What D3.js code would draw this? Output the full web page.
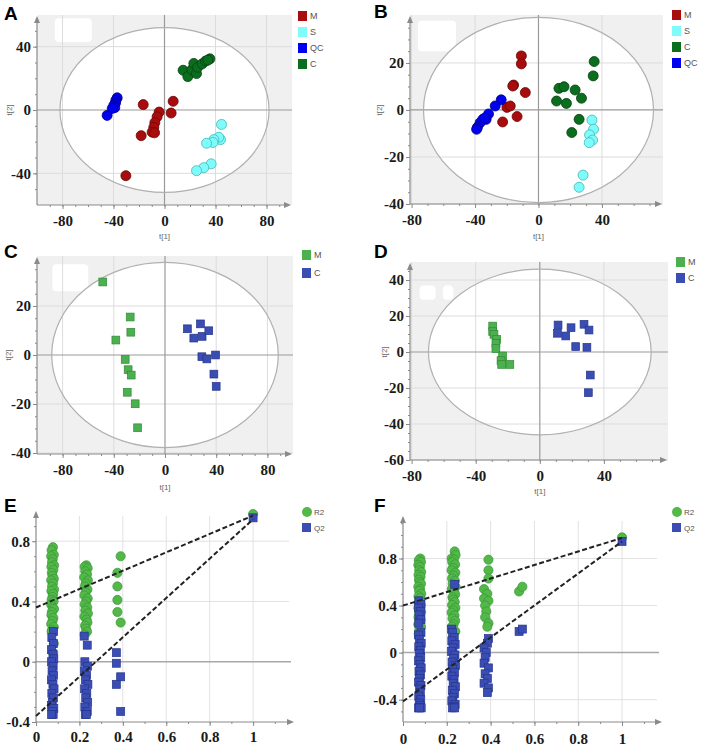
<!DOCTYPE html>
<html><head><meta charset="utf-8">
<script src="https://cdn.jsdelivr.net/npm/d3@7"></script>
<style>body{margin:0;background:#fff}</style>
</head><body><svg id="c" width="702" height="747"></svg>
<script>
// ---------- DATA ----------
// Panel A (PCA scores, t[1] vs t[2])
const A_M_x = [-16.7,-4.2,-5.8,-7.6,-8.4,-9.7,-7.8,-18.3,6.8,5.2,-30.3];
const A_M_y = [3.4,-1.3,-4.3,-8,-11,-14,-14.4,-16.2,5.5,-1.9,-41.5];
const A_S_x = [44.7,43.9,42.6,38.7,38,33,36.6,30.8,25.1];
const A_S_y = [-9.1,-18.7,-17.2,-18.7,-20.5,-21,-34,-36.4,-38.3];
const A_QC_x = [-37.1,-38.1,-38.4,-39.7,-39,-41,-45];
const A_QC_y = [7.7,6.2,4.5,3,1.5,1,-3.4];
const A_C_x = [14.6,18.3,21.5,23,25.1,26,29.5,32.2,35.6,34];
const A_C_y = [25.1,21.1,25.5,29.4,23,27,29.1,30.9,32.3,31.5];
const A_groups = ["M","S","QC","C"];
const A_xticks = [-80,-40,0,40,80];
const A_yticks = [40,0,-40];

// Panel B
const B_M_x = [-10.8,-10.8,-15.7,-16.2,-8.3,-19.9,-17.8,-13.5,-22.6];
const B_M_y = [23,19.6,10.6,10.2,7.4,1.1,1.7,-2.8,-5.1];
const B_S_x = [33.7,34.7,32.2,34.1,32,28.1,25.6];
const B_S_y = [-4.3,-8.2,-10.6,-12.8,-13.9,-27.7,-32.9];
const B_C_x = [35.1,34.5,12.9,16.1,23.1,11.4,17.6,27.1,25.6,21];
const B_C_y = [20.6,14.5,9.2,9.9,8.5,3.8,2.8,5,-4,-9.6];
const B_QC_x = [-23.5,-27.3,-31.5,-33,-35.1,-36.8,-38.5,-39,-34];
const B_QC_y = [4.3,1.7,-1.7,-4,-4,-5.4,-7.4,-8.2,-3.5];
const B_groups = ["M","S","C","QC"];
const B_xticks = [-80,-40,0,40];
const B_yticks = [20,0,-20,-40];

// Panel C (OPLS-DA scores)
const C_M_x = [-48.6,-27.2,-26.7,-38.4,-31.1,-28.8,-26.4,-29.5,-23.3,-21.4];
const C_M_y = [29.8,15.5,9.3,6.1,-1.8,-6,-8.2,-15.2,-19.9,-29.7];
const C_C_x = [17.5,22.5,27.7,29,34.2,28.8,32.7,39.5,38.2,40];
const C_C_y = [10.7,6.9,12.7,7.6,9.9,-0.7,-1.6,0,-7.8,-12.8];
const C_groups = ["M","C"];
const C_xticks = [-80,-40,0,40,80];
const C_yticks = [20,0,-20,-40];

// Panel D
const D_M_x = [-29.4,-29.4,-28.6,-26.9,-27.4,-27.4,-23.2,-24.2,-23.8,-18.7];
const D_M_y = [14.4,11.3,9.8,7,4.8,1.9,-2.2,-4.8,-6.9,-6.9];
const D_C_x = [11.4,11,16.2,19.5,27.6,30.7,22.4,29.4,31.5,30.3];
const D_C_y = [15,10.4,8.9,13.5,15.4,12.2,3,2.6,-12.8,-22.6];
const D_groups = ["M","C"];
const D_xticks = [-80,-40,0,40];
const D_yticks = [40,20,0,-20,-40,-60];

// Panel E (permutation test)
const E_R2_x = [0.078,0.072,0.082,0.070,0.077,0.074,0.083,0.071,0.080,0.073,0.076,0.082,0.070,0.078,0.074,0.083,0.071,0.079,0.076,0.072,0.081,0.070,0.077,0.083,0.073,0.071,0.080,0.076,0.070,0.082,0.074,0.072,0.082,0.079,
  0.232,0.224,0.238,0.227,0.235,0.222,0.239,0.229,0.225,0.237,0.228,0.223,0.238,0.231,0.224,0.236,0.227,0.239,0.223,0.233,0.237,0.226,0.230,0.235,0.224,
  0.39,0.375,0.375,0.375,0.375,0.39, 1.0];
const E_R2_y = [0.76,0.74,0.71,0.70,0.68,0.66,0.64,0.63,0.61,0.59,0.57,0.55,0.54,0.52,0.50,0.48,0.47,0.45,0.43,0.41,0.40,0.38,0.36,0.35,0.33,0.31,0.29,0.27,0.25,0.23,0.21,0.20,0.12,0.06,
  0.64,0.63,0.62,0.60,0.58,0.56,0.54,0.52,0.50,0.48,0.46,0.44,0.42,0.40,0.38,0.36,0.34,0.32,0.30,0.28,0.26,0.24,0.22,0.20,0.18,
  0.70,0.59,0.50,0.41,0.33,0.26, 0.98];
const E_Q2_x = [0.081,0.073,0.080,0.071,0.078,0.082,0.072,0.079,0.074,0.081,0.071,0.078,0.083,0.073,0.080,0.075,0.071,0.082,0.076,0.079,0.072,
  0.222,0.236,0.225,0.237,0.223,0.233,0.228,0.239,0.224,0.234,0.229,0.238,0.225,0.236,0.227,0.232,
  0.37,0.37,0.39,0.37,0.39, 1.0];
const E_Q2_y = [0.20,0.16,0.12,0.08,0.05,0.02,0.00,-0.03,-0.06,-0.09,-0.12,-0.15,-0.18,-0.21,-0.24,-0.27,-0.29,-0.31,-0.33,-0.35,-0.35,
  0.17,0.11,0.00,-0.03,-0.06,-0.09,-0.12,-0.15,-0.18,-0.21,-0.24,-0.27,-0.30,-0.33,-0.35,-0.35,
  0.06,-0.01,-0.10,-0.15,-0.33, 0.955];
const E_R2_line = [[0,0.36],[1,0.97]];
const E_Q2_line = [[0,-0.36],[1,0.945]];
const E_xticks = [0,0.2,0.4,0.6,0.8,1];
const E_yticks = [0.8,0.4,0,-0.4];

// Panel F
const F_R2_x = [0.079,0.072,0.082,0.070,0.077,0.074,0.083,0.071,0.080,0.073,0.076,0.082,0.070,0.078,0.074,0.083,0.071,0.079,0.076,0.072,0.081,0.070,0.077,0.083,0.073,0.071,0.080,0.076,0.070,0.082,0.074,0.072,
  0.236,0.240,0.222,0.232,0.225,0.238,0.228,0.222,0.239,0.231,0.224,0.237,0.227,0.240,0.223,0.233,0.238,0.226,0.230,0.236,0.224,0.239,0.229,0.222,0.235,0.226,0.238,0.231,0.224,0.239,
  0.39,0.39,0.39,0.37,0.385,0.37,0.39,0.375,0.38,0.375,0.39,0.385,
  0.53,0.545,1.0];
const F_R2_y = [0.80,0.785,0.77,0.745,0.73,0.70,0.685,0.66,0.645,0.62,0.60,0.585,0.56,0.54,0.525,0.50,0.48,0.465,0.44,0.42,0.405,0.38,0.36,0.345,0.32,0.30,0.28,0.265,0.24,0.22,0.19,0.16,
  0.86,0.83,0.80,0.79,0.77,0.75,0.72,0.70,0.68,0.655,0.63,0.61,0.585,0.56,0.54,0.52,0.495,0.47,0.45,0.43,0.405,0.38,0.36,0.34,0.315,0.29,0.27,0.24,0.22,0.18,
  0.79,0.70,0.63,0.54,0.50,0.46,0.44,0.40,0.35,0.30,0.25,0.22,
  0.52,0.56,0.98];
const F_Q2_x = [0.072,0.082,0.071,0.081,0.073,0.082,0.072,
  0.082,0.071,0.075,0.083,0.072,0.079,0.074,0.081,0.071,0.078,0.083,0.073,0.080,0.075,0.071,0.082,0.076,0.079,0.072,0.081,0.074,0.078,0.071,0.083,0.076,
  0.236,0.222,0.226,0.234,0.223,0.238,0.228,0.222,0.237,0.231,0.224,0.239,0.227,0.235,0.223,0.233,0.229,0.239,0.225,0.235,0.228,0.223,0.238,0.231,0.226,0.236,
  0.39,0.385,0.37,0.38,0.375,0.37,0.39,0.375,0.385,0.37,0.39,0.385,
  0.53,0.545,1.0];
const F_Q2_y = [0.44,0.41,0.38,0.35,0.32,0.28,0.25,
  0.17,0.15,0.11,0.08,0.05,0.02,-0.01,-0.04,-0.07,-0.10,-0.13,-0.16,-0.19,-0.22,-0.25,-0.28,-0.31,-0.34,-0.37,-0.40,-0.43,-0.45,-0.47,-0.47,-0.47,
  0.58,0.20,0.17,0.13,0.10,0.07,0.04,0.01,-0.02,-0.05,-0.08,-0.11,-0.14,-0.17,-0.20,-0.23,-0.26,-0.29,-0.32,-0.35,-0.38,-0.41,-0.44,-0.46,-0.47,-0.47,
  0.12,0.08,0.04,0.00,-0.04,-0.09,-0.13,-0.18,-0.22,-0.26,-0.30,-0.34,
  0.18,0.20,0.945];
const F_R2_line = [[0,0.40],[1,0.975]];
const F_Q2_line = [[0,-0.415],[1,0.945]];
const F_xticks = [0,0.2,0.4,0.6,0.8,1];
const F_yticks = [0.8,0.4,0,-0.4];

// ---------- STYLE ----------
const SERIF = '"Liberation Serif","Times New Roman",serif';
const SANS = '"Liberation Sans",Arial,sans-serif';
const colAB = {M:"#a80c0c", S:"#80fbfb", QC:"#0000f0", C:"#0b6e1e"};
const strAB = {M:"#6a0606", S:"#40b8b8", QC:"#00008a", C:"#064010"};
const colCD = {M:"#4cb050", C:"#3a4db3"};
const strCD = {M:"#2f8a33", C:"#27358a"};
const GREEN = "#52b848", GREEN_S = "#3a963a", BLUE = "#3a4db5", BLUE_S = "#26358a";

const svg = d3.select('#c');

function arrowAxes(g, o) {
  const c = "#8a8a8a";
  g.append('line').attr('x1',o.L).attr('x2',o.R-4).attr('y1',o.B).attr('y2',o.B).attr('stroke',c).attr('stroke-width',1.2);
  g.append('path').attr('d',`M${o.R-1},${o.B} l-7,-3 l0,6 z`).attr('fill',c);
  g.append('line').attr('x1',o.L).attr('x2',o.L).attr('y1',o.B).attr('y2',o.T+4).attr('stroke',c).attr('stroke-width',1.2);
  g.append('path').attr('d',`M${o.L},${o.T+1} l-3,7 l6,0 z`).attr('fill',c);
}

function ticks(g, x, y, o) {
  const fmt = d => String(d);
  const ax = g.append('g').attr('transform',`translate(0,${o.B})`)
    .call(d3.axisBottom(x).tickValues(o.xt).tickSize(4).tickPadding(o.xpad||6).tickFormat(fmt));
  const axm = g.append('g').attr('transform',`translate(0,${o.B})`)
    .call(d3.axisBottom(x).tickValues(o.xm).tickSize(2).tickFormat(''));
  const ay = g.append('g').attr('transform',`translate(${o.L},0)`)
    .call(d3.axisLeft(y).tickValues(o.yt).tickSize(4).tickPadding(2).tickFormat(fmt));
  const aym = g.append('g').attr('transform',`translate(${o.L},0)`)
    .call(d3.axisLeft(y).tickValues(o.ym).tickSize(2).tickFormat(''));
  [ax,axm,ay,aym].forEach(a => {
    a.select('.domain').remove();
    a.selectAll('line').attr('stroke','#8a8a8a');
    a.selectAll('text').attr('font-family',SERIF).attr('font-weight','bold')
      .attr('font-size',15).attr('fill','#1a1a1a');
  });
}

function letter(t, x, yb) {
  svg.append('text').attr('x',x).attr('y',yb).text(t)
    .attr('font-family',SANS).attr('font-weight','bold').attr('font-size',19).attr('fill','#000');
}

function scorePanel(o) {
  const g = svg.append('g');
  const x = d3.scaleLinear().domain(o.xd).range([o.L, o.R]);
  const y = d3.scaleLinear().domain(o.yd).range([o.B, o.T]);
  g.append('rect').attr('x',o.L).attr('y',o.T).attr('width',o.R-o.L).attr('height',o.B-o.T).attr('fill','#f0f0f0');
  g.append('ellipse').attr('cx',x(0)).attr('cy',y(0))
    .attr('rx',x(o.ell[0])-x(0)).attr('ry',y(0)-y(o.ell[1])).attr('fill','#fff');
  (o.patches||[]).forEach(p => {
    g.append('rect').attr('x',x(p[0])).attr('y',y(p[3])).attr('width',x(p[1])-x(p[0]))
      .attr('height',y(p[2])-y(p[3])).attr('rx',4).attr('fill','#fff');
  });
  o.xt.filter(v=>v!==0).forEach(v => g.append('line').attr('x1',x(v)).attr('x2',x(v)).attr('y1',o.T).attr('y2',o.B)
    .attr('stroke','#dcdcdc').attr('stroke-width',1));
  o.yt.filter(v=>v!==0).forEach(v => g.append('line').attr('y1',y(v)).attr('y2',y(v)).attr('x1',o.L).attr('x2',o.R)
    .attr('stroke','#dcdcdc').attr('stroke-width',1));
  g.append('line').attr('x1',x(0)).attr('x2',x(0)).attr('y1',o.T).attr('y2',o.B).attr('stroke','#9a9a9a').attr('stroke-width',1.2);
  g.append('line').attr('y1',y(0)).attr('y2',y(0)).attr('x1',o.L).attr('x2',o.R).attr('stroke','#9a9a9a').attr('stroke-width',1.2);
  g.append('ellipse').attr('cx',x(0)).attr('cy',y(0))
    .attr('rx',x(o.ell[0])-x(0)).attr('ry',y(0)-y(o.ell[1])).attr('fill','none').attr('stroke','#b0b0b0').attr('stroke-width',1.2);
  arrowAxes(g,o);
  ticks(g,x,y,o);
  o.series.forEach(s => {
    const pts = s.xs.map((v,i)=>[v,s.ys[i]]);
    if (o.shape === 'circle') {
      g.selectAll(null).data(pts).enter().append('circle')
        .attr('cx',d=>x(d[0])).attr('cy',d=>y(d[1])).attr('r',o.r)
        .attr('fill',s.fill).attr('stroke',s.stroke).attr('stroke-width',0.8);
    } else {
      g.selectAll(null).data(pts).enter().append('rect')
        .attr('x',d=>x(d[0])-o.r).attr('y',d=>y(d[1])-o.r).attr('width',2*o.r).attr('height',2*o.r)
        .attr('fill',s.fill).attr('stroke',s.stroke).attr('stroke-width',0.7);
    }
  });
  g.append('text').attr('x',x(0)).attr('y',o.t1y).attr('text-anchor','middle').text('t[1]')
    .attr('font-family',SANS).attr('font-size',8).attr('fill','#666');
  g.append('text').attr('transform',`translate(${o.t2x},${y(0)}) rotate(-90)`).attr('text-anchor','middle').text('t[2]')
    .attr('font-family',SANS).attr('font-size',8).attr('fill','#666');
  o.groups.forEach((gname,i) => {
    const ly = o.legY + i*o.legDy;
    g.append('rect').attr('x',o.legX).attr('y',ly).attr('width',9).attr('height',10).attr('fill',o.colors[gname]);
    g.append('text').attr('x',o.legX+12).attr('y',ly+8).text(gname)
      .attr('font-family',SANS).attr('font-size',9).attr('fill','#555');
  });
}

function permPanel(o) {
  const g = svg.append('g');
  const x = d3.scaleLinear().domain(o.xd).range([o.L, o.R]);
  const y = d3.scaleLinear().domain(o.yd).range([o.B, o.T]);
  o.xt.filter(v=>v!==0).forEach(v => g.append('line').attr('x1',x(v)).attr('x2',x(v)).attr('y1',o.T+6).attr('y2',o.B)
    .attr('stroke','#e2e2e2').attr('stroke-width',1));
  o.yt.filter(v=>v!==0 && v> o.yd[0]+0.05).forEach(v => g.append('line').attr('y1',y(v)).attr('y2',y(v)).attr('x1',o.L).attr('x2',o.R-6)
    .attr('stroke','#e2e2e2').attr('stroke-width',1));
  g.append('line').attr('y1',y(0)).attr('y2',y(0)).attr('x1',o.L).attr('x2',o.R-4).attr('stroke','#a8a8a8').attr('stroke-width',1.5);
  arrowAxes(g,o);
  ticks(g,x,y,o);
  const r2 = o.r2x.map((v,i)=>[v,o.r2y[i]]);
  const q2 = o.q2x.map((v,i)=>[v,o.q2y[i]]);
  g.selectAll(null).data(r2).enter().append('circle')
    .attr('cx',d=>x(d[0])).attr('cy',d=>y(d[1])).attr('r',4.6)
    .attr('fill',GREEN).attr('stroke',GREEN_S).attr('stroke-width',0.7);
  g.selectAll(null).data(q2).enter().append('rect')
    .attr('x',d=>x(d[0])-4).attr('y',d=>y(d[1])-4).attr('width',8).attr('height',8)
    .attr('fill',BLUE).attr('stroke',BLUE_S).attr('stroke-width',0.7);
  const ln = d3.line().x(d=>x(d[0])).y(d=>y(d[1]));
  [o.r2line,o.q2line].forEach(l => g.append('path').attr('d',ln(l)).attr('fill','none')
    .attr('stroke','#222').attr('stroke-width',2).attr('stroke-dasharray','5,2.5'));
  g.append('circle').attr('cx',o.legX+5).attr('cy',o.legY).attr('r',5).attr('fill',GREEN);
  g.append('text').attr('x',o.legX+12).attr('y',o.legY+3).text('R2').attr('font-family',SANS).attr('font-size',8).attr('fill','#555');
  g.append('rect').attr('x',o.legX).attr('y',o.legY+11).attr('width',9).attr('height',9).attr('fill',BLUE);
  g.append('text').attr('x',o.legX+12).attr('y',o.legY+19).text('Q2').attr('font-family',SANS).attr('font-size',8).attr('fill','#555');
}

const rng = (a,b,s) => d3.range(a,b+s/2,s);

scorePanel({L:37,R:292,T:15,B:205,xd:[-100,100],yd:[-60,60],ell:[82,52],
  xt:A_xticks,yt:A_yticks,xm:rng(-90,90,10),ym:rng(-50,50,10),
  shape:'circle',r:5,t1y:239,t2x:12,legX:298,legY:11,legDy:16,groups:A_groups,colors:colAB,
  patches:[[-86,-57,43,58]],
  series:[{xs:A_M_x,ys:A_M_y,fill:colAB.M,stroke:strAB.M},{xs:A_S_x,ys:A_S_y,fill:colAB.S,stroke:strAB.S},
          {xs:A_QC_x,ys:A_QC_y,fill:colAB.QC,stroke:strAB.QC},{xs:A_C_x,ys:A_C_y,fill:colAB.C,stroke:strAB.C}]});

scorePanel({L:410,R:663,T:15,B:204,xd:[-81,78.5],yd:[-40,40.4],ell:[72.5,39.4],
  xt:B_xticks,yt:B_yticks,xm:rng(-70,70,10),ym:rng(-35,35,5),
  shape:'circle',r:5,t1y:239,t2x:382,legX:672,legY:10,legDy:16,groups:B_groups,colors:colAB,
  patches:[[-76,-52,25,38]],
  series:[{xs:B_M_x,ys:B_M_y,fill:colAB.M,stroke:strAB.M},{xs:B_S_x,ys:B_S_y,fill:colAB.S,stroke:strAB.S},
          {xs:B_C_x,ys:B_C_y,fill:colAB.C,stroke:strAB.C},{xs:B_QC_x,ys:B_QC_y,fill:colAB.QC,stroke:strAB.QC}]});

scorePanel({L:37,R:293,T:256,B:454,xd:[-100,100],yd:[-40.4,40.4],ell:[88.5,37.8],
  xt:C_xticks,yt:C_yticks,xm:rng(-90,90,10),ym:rng(-35,35,5),
  shape:'square',r:3.9,t1y:490,t2x:11,legX:302,legY:250,legDy:18,groups:C_groups,colors:colCD,
  patches:[[-88,-60,26,37]],
  series:[{xs:C_M_x,ys:C_M_y,fill:colCD.M,stroke:strCD.M},{xs:C_C_x,ys:C_C_y,fill:colCD.C,stroke:strCD.C}]});

scorePanel({L:410,R:668,T:262,B:460,xd:[-81,80],yd:[-60,50],ell:[69.5,46],
  xt:D_xticks,yt:D_yticks,xm:rng(-70,70,10),ym:rng(-55,45,5),
  shape:'square',r:3.9,t1y:494,t2x:387,legX:676,legY:257,legDy:16,groups:D_groups,colors:colCD,
  patches:[[-75,-65,29,37],[-60.5,-54,29,37]],
  series:[{xs:D_M_x,ys:D_M_y,fill:colCD.M,stroke:strCD.M},{xs:D_C_x,ys:D_C_y,fill:colCD.C,stroke:strCD.C}]});

permPanel({L:36,R:295,T:510,B:722,xd:[0,1.193],yd:[-0.4,1.007],
  xt:E_xticks,yt:E_yticks,xm:rng(0.1,1.1,0.1),ym:rng(-0.3,0.9,0.1),xpad:5,
  r2x:E_R2_x,r2y:E_R2_y,q2x:E_Q2_x,q2y:E_Q2_y,r2line:E_R2_line,q2line:E_Q2_line,legX:302,legY:512});

permPanel({L:403,R:663,T:515,B:722,xd:[0,1.187],yd:[-0.59,1.17],
  xt:F_xticks,yt:F_yticks,xm:rng(0.1,1.1,0.1),ym:rng(-0.5,1.1,0.1),xpad:7,
  r2x:F_R2_x,r2y:F_R2_y,q2x:F_Q2_x,q2y:F_Q2_y,r2line:F_R2_line,q2line:F_Q2_line,legX:672,legY:512});

letter('A',4,20); letter('B',374,18); letter('C',4,258); letter('D',374,258); letter('E',4,512); letter('F',374,512);
</script></body></html>
